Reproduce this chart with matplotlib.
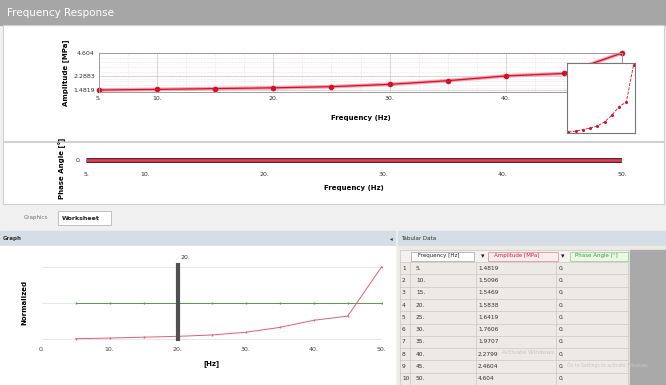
import numpy as np
import matplotlib.pyplot as plt
from matplotlib.patches import Rectangle
from matplotlib.ticker import MultipleLocator

# data
freq = [5, 10, 15, 20, 25, 30, 35, 40, 45, 50]
amplitude = [1.4819, 1.5096, 1.5469, 1.5838, 1.6419, 1.7606, 1.9707, 2.2799, 2.4604, 4.604]
phase = [0, 0, 0, 0, 0, 0, 0, 0, 0, 0]
amp_ticks = [1.4819, 2.2883, 4.604]
freq_ticks = [5, 10, 20, 30, 40, 50]
graph_ticks = [0, 10, 20, 30, 40, 50]
cursor_freq = 20

W, H = 666, 385
fig = plt.figure(figsize=(W / 100, H / 100), dpi=100)
fig.patch.set_facecolor('#f0f0f0')


def px_axes(x0, y0, x1, y1, **kw):
    # axes placed in screen pixels (origin top left)
    return fig.add_axes([x0 / W, 1 - y1 / H, (x1 - x0) / W, (y1 - y0) / H], **kw)


bg = px_axes(0, 0, W, H)
bg.set_xlim(0, W)
bg.set_ylim(H, 0)
bg.axis('off')

# title bar and panels
bg.add_patch(Rectangle((0, 0), W, 25, color='#a6a6a6'))
bg.text(7, 13, 'Frequency Response', color='white', fontsize=7.5, va='center')
bg.add_patch(Rectangle((3, 25), 661, 116, facecolor='white', edgecolor='#d0d0d0', lw=0.8))
bg.add_patch(Rectangle((3, 142), 661, 62, facecolor='white', edgecolor='#d0d0d0', lw=0.8))

# tabs
bg.text(24, 218, 'Graphics', fontsize=4, color='#707070', va='center')
bg.add_patch(Rectangle((58, 211), 53, 14, facecolor='white', edgecolor='#b8b8b8', lw=0.6))
bg.text(62, 218, 'Worksheet', fontsize=4.5, color='#202020', va='center', fontweight='bold')

# lower panels
bg.add_patch(Rectangle((0, 231), 395, 15, color='#d5dde6'))
bg.text(3, 238.5, 'Graph', fontsize=4, color='#303030', va='center', fontweight='bold')
bg.text(390, 238.5, '\u25c2', fontsize=4, color='#303030', va='center')
bg.add_patch(Rectangle((0, 246), 395, 139, color='white'))
bg.add_patch(Rectangle((398, 231), 268, 15, color='#d5dde6'))
bg.text(401, 238.5, 'Tabular Data', fontsize=4, color='#303030', va='center')
bg.add_patch(Rectangle((398, 246), 268, 139, color='#edeae5'))
bg.add_patch(Rectangle((630, 250), 36, 135, color='#a9a9a9'))

# ---- amplitude chart
ax = px_axes(99, 53, 622, 92)
ax.set_yscale('log')
ax.set_xlim(5, 50)
ax.set_ylim(1.394, 4.604)
ax.xaxis.set_minor_locator(MultipleLocator(2.5))
ax.set_yticks(amp_ticks, labels=[f'{v:g}' for v in amp_ticks])
ax.set_yticks([1.6, 1.75, 1.95, 2.1, 2.6, 3.0, 3.5, 4.0], minor=True)
ax.set_xticks(freq_ticks, labels=[f'{v}.' for v in freq_ticks])
ax.grid(True, which='major', color='#c8c8c8', lw=0.5)
ax.grid(True, which='minor', color='#e9c9cf', lw=0.4, ls=':')
ax.tick_params(labelsize=4.5, length=0, pad=3, colors='#333333')
ax.tick_params(which='minor', length=0, labelleft=False, labelbottom=False)
for s in ax.spines.values():
    s.set_color('#9a9a9a')
    s.set_linewidth(0.7)
ax.plot(freq, amplitude, color='#f5a3ae', lw=2.6, clip_on=False)
ax.plot(freq, amplitude, color='#d4102a', lw=0.9, marker='o', ms=3, clip_on=False)
ax.plot([freq[-1], freq[-1]], [1.394, amplitude[-1]], color='#d4102a', lw=0.7)
ax.set_xlabel('Frequency (Hz)', fontsize=5, fontweight='bold', labelpad=10)
ax.set_ylabel('Amplitude [MPa]', fontsize=5, fontweight='bold', labelpad=3)

# zoom box
ins = px_axes(567, 63, 635, 133)
ins.set_yscale('log')
ins.plot(freq, amplitude, color='#d4102a', lw=0.6, ls='--', marker='o', ms=1.2)
ins.set_xlim(4, 51)
ins.set_ylim(1.46, 4.75)
ins.set_xticks([])
ins.set_yticks([])
ins.minorticks_off()
for s in ins.spines.values():
    s.set_color('#777777')
    s.set_linewidth(0.8)

# ---- phase chart
axp = px_axes(86, 153, 622, 168)
axp.set_xlim(5, 50)
axp.set_ylim(-1, 1)
axp.plot(freq, phase, color='#6e2229', lw=3.6, solid_capstyle='butt')
axp.plot(freq, phase, color='#e0405a', lw=1.8, solid_capstyle='butt')
axp.set_xticks(freq_ticks, labels=[f'{v}.' for v in freq_ticks])
axp.set_yticks([0], labels=['0.'])
axp.tick_params(labelsize=4.5, length=0, pad=3, colors='#333333')
for s in axp.spines.values():
    s.set_visible(False)
axp.set_xlabel('Frequency (Hz)', fontsize=5, fontweight='bold', labelpad=6)
fig.text(62 / W, 1 - 168 / H, 'Phase Angle [\u00b0]', fontsize=5, fontweight='bold',
         rotation=90, ha='center', va='center')

# ---- normalized graph
amp = np.array(amplitude)
amp_norm = (amp - amp.min()) / (amp.max() - amp.min())
ph = np.array(phase, dtype=float)
ph_norm = np.full_like(ph, 0.5) if np.ptp(ph) == 0 else (ph - ph.min()) / np.ptp(ph)

axg = px_axes(41.7, 263, 381.7, 341)
axg.set_xlim(0, 50)
axg.set_ylim(-0.032, 1.051)
axg.set_xticks(graph_ticks, labels=[f'{v}.' for v in graph_ticks])
axg.set_yticks([0, 0.5, 1], labels=[])
axg.grid(True, axis='y', color='#e2e2e2', lw=0.6)
axg.tick_params(labelsize=4.5, length=0, pad=4, colors='#444444')
for s in axg.spines.values():
    s.set_visible(False)
axg.plot(freq, ph_norm, color='#5a9a40', lw=0.7, marker='|', ms=2)
axg.plot(freq, amp_norm, color='#e06070', lw=0.7, marker='|', ms=2)
axg.axvline(cursor_freq, color='#505050', lw=3)
axg.text(cursor_freq + 0.4, 1.13, f'{cursor_freq}.', fontsize=4.5, color='#333333', va='center')
axg.set_xlabel('[Hz]', fontsize=5, fontweight='bold', labelpad=6)
axg.set_ylabel('Normalized', fontsize=5, fontweight='bold', labelpad=6)

# ---- table
row_h = 12.3
top = 250
cols = [400, 410, 476, 556, 628]
bg.add_patch(Rectangle((400, top), 228, 12, facecolor='#f4f2ee', edgecolor='#c8c8c8', lw=0.5))
bg.add_patch(Rectangle((411, top + 1.5), 63, 9, facecolor='white', edgecolor='#a0a0a0', lw=0.5))
bg.text(418, top + 6, 'Frequency [Hz]', fontsize=4, color='#202020', va='center')
bg.text(481, top + 6, '\u25be', fontsize=5, color='#202020', va='center')
bg.add_patch(Rectangle((488, top + 1.5), 70, 9, facecolor='#fbecee', edgecolor='#d08890', lw=0.5))
bg.text(494, top + 6, 'Amplitude [MPa]', fontsize=4, color='#d0203a', va='center')
bg.text(561, top + 6, '\u25be', fontsize=5, color='#202020', va='center')
bg.add_patch(Rectangle((570, top + 1.5), 58, 9, facecolor='#ecf7e6', edgecolor='#90c890', lw=0.5))
bg.text(575, top + 6, 'Phase Angle [\u00b0]', fontsize=4, color='#3a9a3a', va='center')
y0 = top + 12
for i, (f, a, p) in enumerate(zip(freq, amplitude, phase)):
    yc = y0 + (i + 0.5) * row_h
    bg.plot([400, 628], [y0 + (i + 1) * row_h] * 2, color='#c8c8c8', lw=0.5)
    bg.text(402, yc, str(i + 1), fontsize=4.2, color='#333333', va='center')
    bg.text(416, yc, f'{f}.', fontsize=4.2, color='#333333', va='center')
    bg.text(478, yc, f'{a:g}', fontsize=4.2, color='#333333', va='center')
    bg.text(559, yc, f'{p}.', fontsize=4.2, color='#333333', va='center')
for c in cols:
    bg.plot([c, c], [y0, H], color='#c8c8c8', lw=0.5)

# windows watermark
bg.text(502, 352, 'Activate Windows', fontsize=4.2, color='#c4c4c4', va='center')
bg.text(567, 365, 'Go to Settings to activate Windows.', fontsize=3.3, color='#c8c8c8', va='center')

fig.savefig('out.png', dpi=100, facecolor=fig.get_facecolor())
